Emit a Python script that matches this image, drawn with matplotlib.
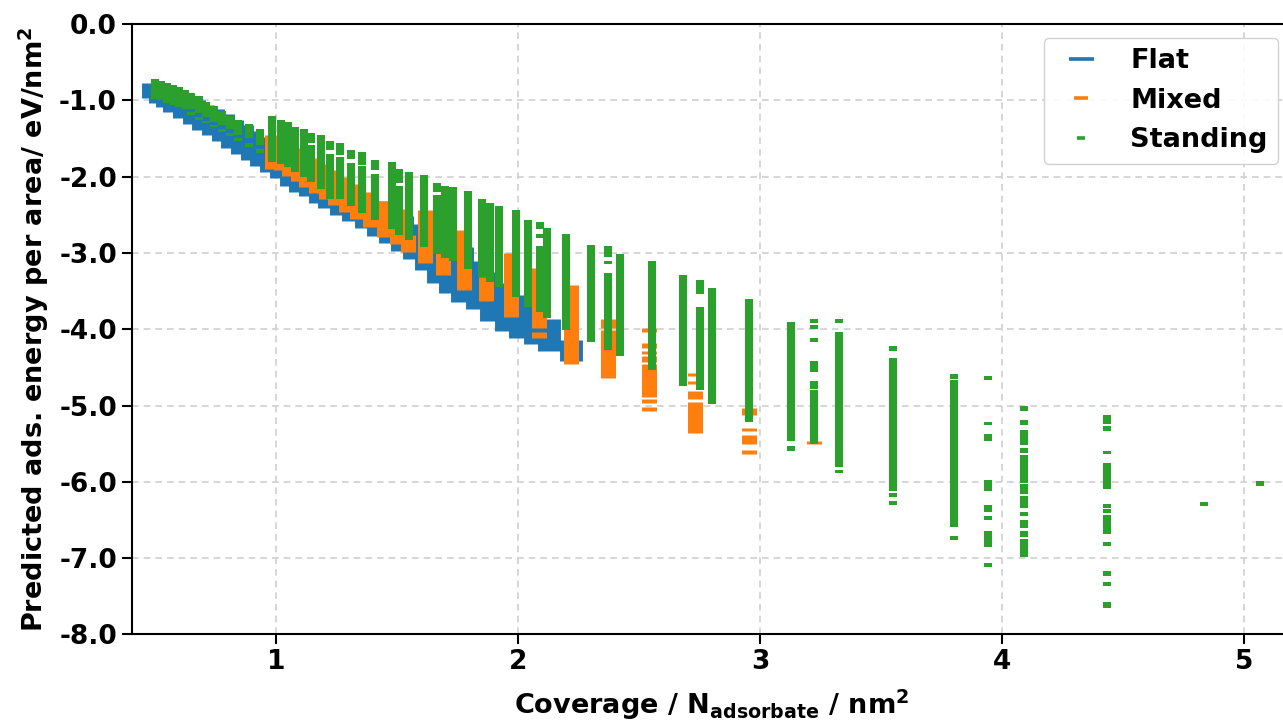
import matplotlib
matplotlib.use("Agg")
import matplotlib.pyplot as plt
from matplotlib.lines import Line2D

# ---- data (coverage / energy runs) ----
flat_x = [0.49, 0.52, 0.55, 0.58, 0.62, 0.66, 0.70, 0.74, 0.78, 0.82, 0.86, 0.90, 0.94,
          0.98, 1.02, 1.06, 1.10, 1.14, 1.18, 1.22, 1.27, 1.32, 1.37, 1.42, 1.47, 1.52,
          1.57, 1.62, 1.67, 1.72, 1.77, 1.83, 1.89, 1.95, 2.01, 2.07, 2.13, 2.22]
flat_top = [-0.78, -0.80, -0.84, -0.88, -0.94, -1.00, -1.06, -1.12, -1.18, -1.26, -1.32, -1.40, -1.48,
            -1.56, -1.64, -1.72, -1.78, -1.84, -1.90, -1.96, -2.04, -2.12, -2.22, -2.32, -2.42, -2.52,
            -2.62, -2.72, -2.82, -2.90, -2.92, -3.10, -3.25, -3.40, -3.55, -3.70, -3.86, -4.14]
flat_bottom = [-0.97, -1.03, -1.09, -1.15, -1.23, -1.31, -1.39, -1.46, -1.54, -1.62, -1.70, -1.78, -1.86,
               -1.94, -2.02, -2.12, -2.20, -2.25, -2.34, -2.41, -2.50, -2.58, -2.68, -2.78, -2.87, -2.98,
               -3.08, -3.22, -3.40, -3.53, -3.64, -3.74, -3.89, -4.02, -4.12, -4.20, -4.28, -4.41]

mixed_x = [0.985, 1.02, 1.055, 1.09, 1.125, 1.165, 1.205, 1.245, 1.29, 1.335, 1.39, 1.445, 1.50,
           1.545, 1.615, 1.69, 1.776, 1.867, 1.97, 2.088, 2.217, 2.37, 2.54, 2.73, 2.955, 3.225]
mixed_runs = [
    [(-1.46, -1.90)], [(-1.50, -1.92)], [(-1.55, -1.99)], [(-1.62, -2.06)], [(-1.68, -2.13)],
    [(-1.76, -2.21)], [(-1.84, -2.30)], [(-1.92, -2.37)], [(-2.00, -2.47)], [(-2.10, -2.56)],
    [(-2.20, -2.66)], [(-2.32, -2.79)], [(-2.42, -2.88)], [(-2.77, -2.99)],
    [(-2.44, -3.13)], [(-3.00, -3.29)], [(-2.70, -3.49)], [(-3.32, -3.63)], [(-3.00, -3.84)],
    [(-3.20, -3.99), (-4.03, -4.12)],
    [(-3.42, -4.45)],
    [(-3.86, -3.98), (-4.01, -4.64)],
    [(-3.99, -4.04), (-4.18, -4.25), (-4.28, -4.32), (-4.35, -4.43), (-4.46, -4.89), (-4.92, -4.97), (-5.02, -5.07)],
    [(-4.57, -4.61), (-4.68, -4.72), (-4.81, -4.92), (-4.95, -5.36)],
    [(-5.03, -5.13), (-5.30, -5.34), (-5.38, -5.51), (-5.58, -5.64)],
    [(-5.46, -5.51)],
]

standing_x = [0.50, 0.525, 0.55, 0.575, 0.60, 0.625, 0.65, 0.68, 0.71, 0.745, 0.775, 0.81, 0.845, 0.89, 0.935,
              0.985, 1.02, 1.05, 1.08, 1.115, 1.145, 1.185, 1.225, 1.265, 1.31, 1.355, 1.41, 1.48, 1.51,
              1.55, 1.61, 1.665, 1.70, 1.73, 1.795, 1.85, 1.885, 1.92, 1.99, 2.04, 2.09, 2.12, 2.20,
              2.30, 2.37, 2.42, 2.555, 2.68, 2.75, 2.80, 2.955, 3.13, 3.225, 3.327, 3.548, 3.80, 3.94,
              4.092, 4.432, 4.834, 5.065]
standing_runs = [
    [(-0.72, -0.98)], [(-0.75, -1.00)], [(-0.77, -1.03)], [(-0.80, -1.06)], [(-0.83, -1.09)],
    [(-0.86, -1.12)], [(-0.90, -1.12), (-1.16, -1.19)], [(-0.95, -1.17), (-1.22, -1.26)],
    [(-1.02, -1.22), (-1.27, -1.30)], [(-1.08, -1.28), (-1.32, -1.35)], [(-1.14, -1.33), (-1.38, -1.42)],
    [(-1.20, -1.38), (-1.43, -1.47)], [(-1.26, -1.45), (-1.50, -1.54)], [(-1.31, -1.50), (-1.56, -1.61)],
    [(-1.38, -1.58), (-1.64, -1.69)],
    [(-1.21, -1.81)], [(-1.26, -1.83)], [(-1.28, -1.88)], [(-1.35, -1.94)], [(-1.37, -2.00)],
    [(-1.43, -1.56), (-1.58, -2.07)], [(-1.46, -2.16)], [(-1.53, -1.65), (-1.70, -2.29)],
    [(-1.56, -1.72), (-1.74, -2.30)], [(-1.65, -1.77), (-1.82, -2.39)], [(-1.68, -1.85), (-1.86, -2.48)],
    [(-1.78, -1.91), (-1.97, -2.57)], [(-1.81, -2.69)], [(-1.90, -2.08), (-2.12, -2.77)],
    [(-1.94, -2.83)], [(-1.98, -2.92)], [(-2.08, -2.20), (-2.24, -3.01)], [(-2.12, -3.07)],
    [(-2.14, -3.10)], [(-2.19, -3.21)], [(-2.30, -3.31)], [(-2.35, -3.38)], [(-2.39, -3.45)],
    [(-2.44, -3.58)], [(-2.57, -3.71)], [(-2.59, -2.69), (-2.75, -2.80), (-2.91, -3.77)],
    [(-2.67, -3.85)], [(-2.75, -4.01)],
    [(-2.89, -4.17)], [(-2.91, -3.05), (-3.10, -3.15), (-3.26, -4.27)], [(-3.02, -4.35)],
    [(-3.10, -4.53)], [(-3.29, -4.74)], [(-3.36, -3.54), (-3.71, -4.79)], [(-3.46, -4.98)],
    [(-3.60, -5.21)], [(-3.90, -5.47), (-5.53, -5.59)],
    [(-3.87, -3.92), (-3.94, -4.00), (-4.11, -4.17), (-4.42, -4.56), (-4.68, -4.78), (-4.80, -5.50)],
    [(-3.87, -3.92), (-4.04, -5.81), (-5.84, -5.89)],
    [(-4.22, -4.29), (-4.38, -6.12), (-6.15, -6.20), (-6.25, -6.31)],
    [(-4.59, -4.65), (-4.67, -6.59), (-6.71, -6.76)],
    [(-4.61, -4.66), (-5.21, -5.26), (-5.37, -5.47), (-5.98, -6.12), (-6.30, -6.40), (-6.45, -6.50),
     (-6.65, -6.85), (-7.06, -7.12)],
    [(-5.01, -5.07), (-5.19, -5.25), (-5.32, -5.52), (-5.55, -5.62), (-5.65, -5.71), (-5.72, -6.01),
     (-6.03, -6.16), (-6.18, -6.34), (-6.39, -6.45), (-6.50, -6.61), (-6.65, -6.72), (-6.75, -6.99)],
    [(-5.12, -5.24), (-5.27, -5.33), (-5.59, -5.64), (-5.75, -6.09), (-6.29, -6.34), (-6.35, -6.41),
     (-6.44, -6.68), (-6.79, -6.84), (-7.17, -7.23), (-7.31, -7.37), (-7.58, -7.65)],
    [(-6.26, -6.32)],
    [(-5.99, -6.05)],
]

y_ticks = [0.0, -1.0, -2.0, -3.0, -4.0, -5.0, -6.0, -7.0, -8.0]
x_ticks = [1, 2, 3, 4, 5]

plt.rcParams['font.family'] = 'DejaVu Sans'
plt.rcParams['font.weight'] = 'bold'
plt.rcParams['axes.labelweight'] = 'bold'
plt.rcParams['mathtext.default'] = 'bf'
plt.rcParams['axes.unicode_minus'] = False

fig = plt.figure(figsize=(12.83, 7.2), dpi=100)
# right edge of the axes sits just past the image border, as in the original crop
ax = fig.add_axes([0.1025, 0.1188, 0.9045, 0.8479])


def draw_runs(xs, runs, color, width):
    px, lo, hi = [], [], []
    for x, segs in zip(xs, runs):
        for top, bot in segs:
            px.append(x); lo.append(bot); hi.append(top)
    ax.vlines(px, lo, hi, colors=color, linewidth=width, zorder=3)


ax.vlines(flat_x, flat_bottom, flat_top, colors='#1f77b4', linewidth=16.5, zorder=2)
draw_runs(mixed_x, mixed_runs, '#ff7f0e', 10.8)
draw_runs(standing_x, standing_runs, '#2ca02c', 5.8)

ax.set_xlim(0.403, 5.198)
ax.set_ylim(-8.0, 0.0)
ax.set_xticks(x_ticks)
ax.set_yticks(y_ticks)
ax.set_yticklabels([f"{v:.1f}" for v in y_ticks])
ax.tick_params(labelsize=19, width=1.5, length=7)
for s in ax.spines.values():
    s.set_linewidth(1.5)
ax.grid(True, linestyle=(0, (4, 3)), color='#d0d0d0', linewidth=1.2)
ax.set_axisbelow(True)

ax.set_xlabel(r"Coverage / N$_{adsorbate}$ / nm$^{2}$", fontsize=19.5, labelpad=9)
ax.set_ylabel(r"Predicted ads. energy per area/ eV/nm$^{2}$", fontsize=19.5, labelpad=6)

handles = [
    Line2D([], [], marker='_', linestyle='None', color='#1f77b4', markersize=18, mew=2.6, label='Flat'),
    Line2D([], [], marker='_', linestyle='None', color='#ff7f0e', markersize=10.5, mew=2.6, label='Mixed'),
    Line2D([], [], marker='_', linestyle='None', color='#2ca02c', markersize=5.5, mew=2.6, label='Standing'),
]
ax.legend(handles=handles, loc='upper right', fontsize=19.5, framealpha=0.9,
          edgecolor='#cccccc', borderpad=0.4, labelspacing=0.5, handletextpad=0.8,
          borderaxespad=0.5)

fig.savefig('out.png', dpi=100)
